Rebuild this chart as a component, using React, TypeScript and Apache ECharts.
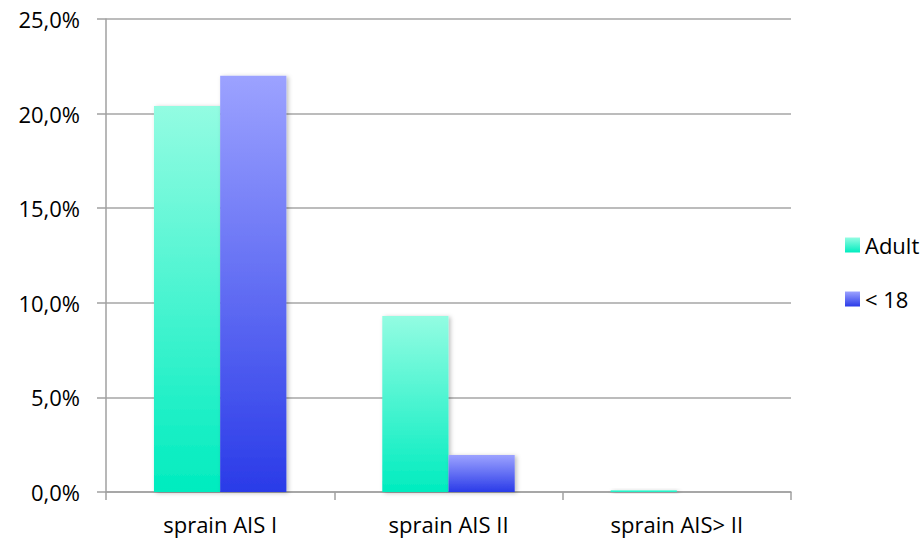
import React, { useEffect, useRef } from "react";
import * as echarts from "echarts";

const categories = ["sprain AIS I", "sprain AIS II", "sprain AIS> II"];
const adultValues = [20.4, 9.3, 0.1];
const under18Values = [22.0, 1.95, 0];
const seriesNames = ["Adult", "< 18"];

const FONT = "'Open Sans', sans-serif";

export default function App() {
  const ref = useRef<HTMLDivElement>(null);
  useEffect(() => {
    if (!ref.current) return;
    const chart = echarts.init(ref.current, undefined, { renderer: "svg" });
    const adultGrad = new echarts.graphic.LinearGradient(0, 0, 0, 1, [
      { offset: 0, color: "#93FCE2" },
      { offset: 1, color: "#00ECBF" },
    ]);
    const kidGrad = new echarts.graphic.LinearGradient(0, 0, 0, 1, [
      { offset: 0, color: "#9CA2FF" },
      { offset: 1, color: "#2A3BE8" },
    ]);
    chart.setOption({
      animation: false,
      backgroundColor: "#ffffff",
      textStyle: { fontFamily: FONT },
      grid: { left: 106, right: 133, top: 19, bottom: 50 },
      legend: {
        orient: "vertical",
        left: 840,
        top: 228,
        itemWidth: 15,
        itemHeight: 15,
        itemGap: 30,
        icon: "rect",
        textStyle: { fontFamily: FONT, fontSize: 22, color: "#000", padding: [0, 0, 0, 0], lineHeight: 24 },
        data: seriesNames,
      },
      xAxis: {
        type: "category",
        data: categories,
        boundaryGap: true,
        axisLine: { lineStyle: { color: "#A0A0A0", width: 1.5 } },
        axisTick: { show: true, length: 8, lineStyle: { color: "#A0A0A0", width: 1.5 } },
        axisLabel: { fontFamily: FONT, fontSize: 22, color: "#000", margin: 21 },
      },
      yAxis: {
        type: "value",
        min: 0,
        max: 25,
        interval: 5,
        axisLine: { show: true, lineStyle: { color: "#A0A0A0", width: 1.5 } },
        axisTick: { show: true, length: 9, lineStyle: { color: "#A0A0A0", width: 1.5 } },
        splitLine: { show: true, lineStyle: { color: "#A6A6A6", width: 1.5 } },
        axisLabel: {
          fontFamily: FONT,
          fontSize: 22,
          color: "#000",
          margin: 26,
          formatter: (v: number) => v.toFixed(1).replace(".", ",") + "%",
        },
      },
      series: [
        {
          name: seriesNames[0],
          type: "bar",
          data: adultValues,
          barGap: "0%",
          barCategoryGap: "42%",
          itemStyle: {
            color: adultGrad,
            shadowBlur: 4,
            shadowOffsetX: 2,
            shadowOffsetY: 1,
            shadowColor: "rgba(0,0,0,0.25)",
          },
        },
        {
          name: seriesNames[1],
          type: "bar",
          data: under18Values,
          barGap: "0%",
          barCategoryGap: "42%",
          itemStyle: {
            color: kidGrad,
            shadowBlur: 4,
            shadowOffsetX: 2,
            shadowOffsetY: 1,
            shadowColor: "rgba(0,0,0,0.25)",
          },
        },
      ],
    });
    return () => chart.dispose();
  }, []);
  return <div ref={ref} style={{ width: 924, height: 542, position: "absolute", left: 0, top: 0 }} />;
}
